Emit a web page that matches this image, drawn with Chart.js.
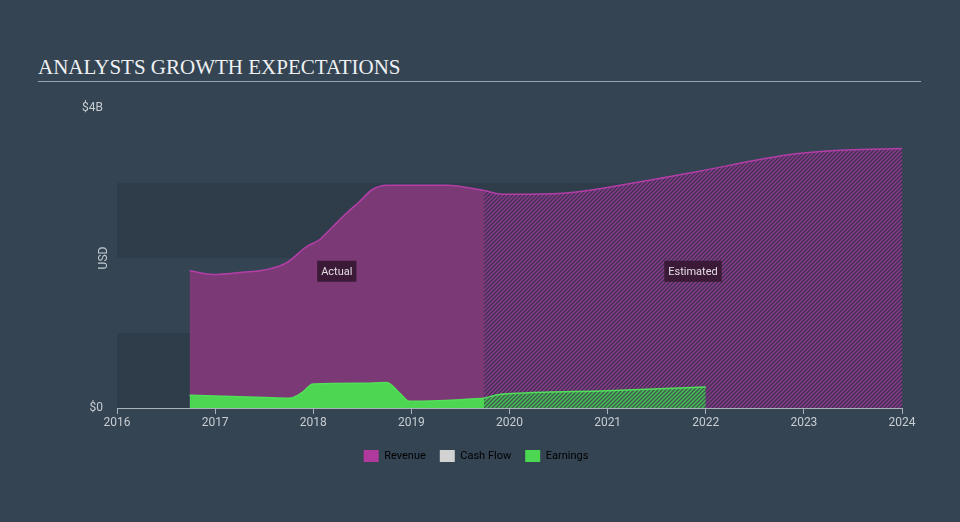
<!DOCTYPE html>
<html>
<head>
<meta charset="utf-8">
<script src="https://cdn.jsdelivr.net/npm/chart.js@4/dist/chart.umd.min.js"></script>
<style>
  html, body { margin: 0; padding: 0; background: #344453; }
  #wrap { position: relative; width: 960px; height: 522px; background: #344453; }
  #title {
    position: absolute; left: 38px; top: 56px; width: 883px;
    font-family: "Liberation Serif", "DejaVu Serif", serif; font-size: 21px;
    color: #eef0f2; border-bottom: 1px solid #9aa4ae; padding-bottom: 2px; line-height: 23px;
  }
  canvas { position: absolute; left: 0; top: 0; }
</style>
</head>
<body>
<div id="wrap">
  <div id="title">ANALYSTS GROWTH EXPECTATIONS</div>
  <canvas id="chart" width="960" height="522"></canvas>
</div>
<script>
// data in years / billions USD
const revenueActual = [
  [2016.74, 1.83], [2016.98, 1.78], [2017.28, 1.81], [2017.5, 1.84], [2017.72, 1.93],
  [2017.93, 2.15], [2018.07, 2.25], [2018.2, 2.42], [2018.34, 2.6], [2018.47, 2.75],
  [2018.6, 2.91], [2018.75, 2.97], [2019.05, 2.97], [2019.36, 2.97], [2019.74, 2.90]
];
const revenueEstimated = [
  [2019.74, 2.90], [2019.93, 2.85], [2020.5, 2.86], [2021.22, 2.99], [2021.91, 3.15],
  [2022.58, 3.32], [2022.92, 3.39], [2023.43, 3.44], [2024.0, 3.46]
];
const earningsActual = [
  [2016.74, 0.17], [2017.0, 0.16], [2017.5, 0.14], [2017.76, 0.13], [2017.88, 0.2],
  [2018.0, 0.32], [2018.5, 0.33], [2018.75, 0.34], [2018.88, 0.2], [2018.98, 0.09],
  [2019.5, 0.11], [2019.74, 0.13]
];
const earningsEstimated = [
  [2019.74, 0.13], [2019.9, 0.18], [2020.15, 0.20], [2021.0, 0.23], [2022.0, 0.28]
];
const yearTicks = [2016, 2017, 2018, 2019, 2020, 2021, 2022, 2023, 2024];
const yTicks = [0, 4];
const legendNames = ['Revenue', 'Cash Flow', 'Earnings'];
const legendColors = ['#b0399e', '#d2d2d2', '#4cd651'];
const regionLabels = [['Actual', 2018.24, 1.83], ['Estimated', 2021.87, 1.83]];

const toPts = arr => arr.map(p => ({x: p[0], y: p[1]}));

function stripes(base, line, size) {
    const c = document.createElement('canvas');
    c.width = size; c.height = size;
    const g = c.getContext('2d');
    g.fillStyle = base;
    g.fillRect(0, 0, size, size);
    g.strokeStyle = line;
    g.lineWidth = 1.4;
    g.beginPath();
    g.moveTo(-1, size + 1); g.lineTo(size + 1, -1);
    g.moveTo(-1, 1); g.lineTo(1, -1);
    g.moveTo(size - 1, size + 1); g.lineTo(size + 1, size - 1);
    g.stroke();
    return g.createPattern(c, 'repeat');
}

const ctx = document.getElementById('chart').getContext('2d');
const revPattern = stripes('#8a3b8c', '#403150', 4);
const earnPattern = stripes('#4bc257', '#3c584e', 4);

// alternating bands + labels
const decor = {
    id: 'decor',
    beforeDatasetsDraw(chart) {
        const {ctx, chartArea: a, scales: {y}} = chart;
        ctx.save();
        ctx.fillStyle = '#2f3d4b';
        [[0, 1], [2, 3]].forEach(b => {
            const t = y.getPixelForValue(b[1]), bt = y.getPixelForValue(b[0]);
            ctx.fillRect(a.left, t, a.right - a.left, bt - t);
        });
        ctx.restore();
    },
    afterDatasetsDraw(chart) {
        const {ctx, chartArea: a, scales: {x, y}} = chart;
        ctx.save();
        ctx.font = '11px Roboto, sans-serif';
        ctx.textAlign = 'center';
        ctx.textBaseline = 'middle';
        regionLabels.forEach(l => {
            const px = x.getPixelForValue(l[1]), py = y.getPixelForValue(l[2]);
            const w = ctx.measureText(l[0]).width + 8;
            ctx.fillStyle = '#3b1a38';
            ctx.fillRect(px - w / 2, py - 10, w, 21);
            ctx.fillStyle = '#e4dde3';
            ctx.fillText(l[0], px, py + 1);
        });
        // axis title
        ctx.translate(104, (a.top + a.bottom) / 2);
        ctx.rotate(-Math.PI / 2);
        ctx.fillStyle = '#c3c9cf';
        ctx.font = '12px Roboto, sans-serif';
        ctx.fillText('USD', 0, 0);
        ctx.restore();
    }
};

const common = {pointRadius: 0, fill: 'origin', cubicInterpolationMode: 'monotone', tension: 0};

const chart = new Chart(ctx, {
    type: 'line',
    data: {
        datasets: [
            Object.assign({label: 'Earnings', data: toPts(earningsActual), borderColor: '#52e05a', borderWidth: 1.5, backgroundColor: '#4cd651', order: 0}, common),
            Object.assign({label: 'Earnings est', data: toPts(earningsEstimated), borderColor: '#52e05a', borderWidth: 1.5, backgroundColor: earnPattern, order: 1}, common),
            Object.assign({label: 'Revenue', data: toPts(revenueActual), borderColor: '#b43ea8', borderWidth: 1.5, backgroundColor: '#7b3a75', order: 2}, common),
            Object.assign({label: 'Revenue est', data: toPts(revenueEstimated), borderColor: '#b43ea8', borderWidth: 1.5, backgroundColor: revPattern, order: 3}, common)
        ]
    },
    options: {
        responsive: false,
        animation: false,
        layout: {padding: {left: 50, right: 58, top: 108, bottom: 50}},
        scales: {
            x: {
                type: 'linear', min: 2016, max: 2024,
                afterBuildTicks: s => { s.ticks = yearTicks.map(v => ({value: v})); },
                afterFit: s => { s.height = 28; },
                ticks: {color: '#c8cdd2', font: {family: 'Roboto', size: 12}, padding: 2, callback: v => String(v)},
                grid: {drawOnChartArea: false, drawTicks: true, tickLength: 6, color: '#a9b2bb'},
                border: {display: true, color: '#a9b2bb'}
            },
            y: {
                min: 0, max: 4,
                afterBuildTicks: s => { s.ticks = yTicks.map(v => ({value: v})); },
                afterFit: s => { s.width = 67; },
                ticks: {color: '#c8cdd2', font: {family: 'Roboto', size: 12}, padding: 14,
                    callback: v => v === 0 ? '$0' : '$' + v + 'B'},
                grid: {display: false, drawTicks: false},
                border: {display: false}
            }
        },
        plugins: {
            tooltip: {enabled: false},
            legend: {
                position: 'bottom',
                labels: {
                    color: '#c8ccd0', font: {family: 'Roboto', size: 11}, boxWidth: 15, boxHeight: 12, padding: 14,
                    generateLabels: () => legendNames.map((n, i) => ({
                        text: n, fillStyle: legendColors[i], strokeStyle: legendColors[i], lineWidth: 0, hidden: false, datasetIndex: i
                    }))
                },
                onClick: () => {}
            }
        }
    },
    plugins: [decor]
});
</script>
</body>
</html>
